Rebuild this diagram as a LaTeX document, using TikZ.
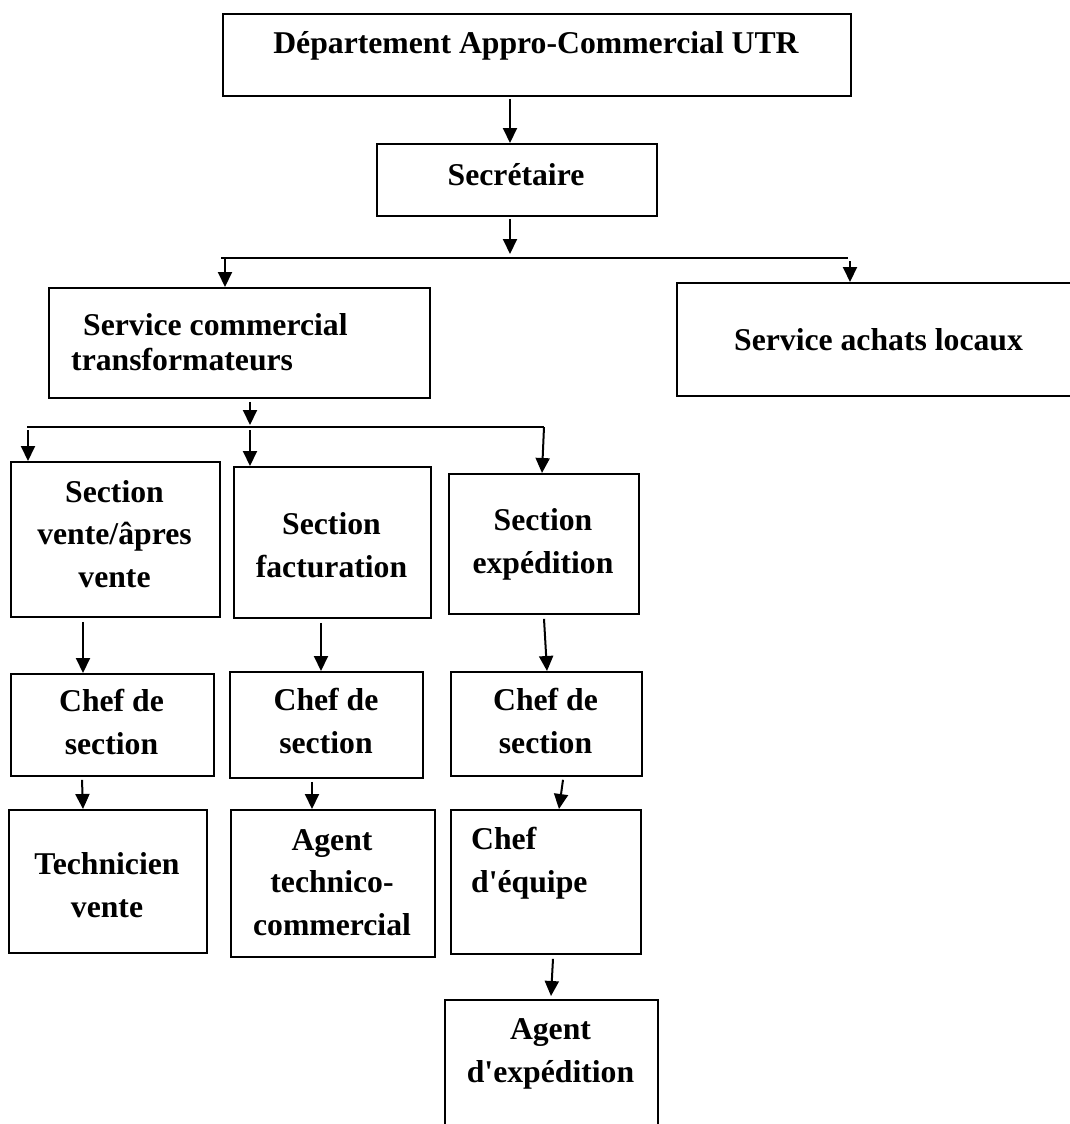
\documentclass[tikz,border=0pt]{standalone}
\usepackage{fontspec}
\setmainfont{Liberation Serif}
\usetikzlibrary{arrows.meta}
\begin{document}
\begin{tikzpicture}[x=1pt,y=-1pt,
  box/.style={draw=black,line width=1.8pt,rectangle,inner sep=0pt,anchor=north west},
  lbl/.style={inner sep=0pt,align=center,anchor=base,
    font=\fontsize{31.7}{42.5}\selectfont\bfseries},
  lbll/.style={lbl,align=left,anchor=base west},
  arr/.style={line width=2pt,-{Triangle[length=15pt,width=14pt]}},
  bus/.style={line width=2pt}]
\useasboundingbox (0,0) rectangle (1070,1124);
\clip (0,0) rectangle (1070,1124);
\fill[white] (0,0) rectangle (1070,1124);

% boxes of the chart
\node[box,minimum width=628pt,minimum height=82pt] (dept) at (222,13) {};
\node[box,minimum width=280pt,minimum height=72pt] (secr) at (376,143) {};
\node[box,minimum width=381pt,minimum height=110pt] (scom) at (48,287) {};
\node[box,minimum width=420pt,minimum height=113pt] (sach) at (676,282) {};
\node[box,minimum width=209pt,minimum height=155pt] (sv) at (10,461) {};
\node[box,minimum width=197pt,minimum height=151pt] (sf) at (233,466) {};
\node[box,minimum width=190pt,minimum height=140pt] (se) at (448,473) {};
\node[box,minimum width=203pt,minimum height=102pt] (c1) at (10,673) {};
\node[box,minimum width=193pt,minimum height=106pt] (c2) at (229,671) {};
\node[box,minimum width=191pt,minimum height=104pt] (c3) at (450,671) {};
\node[box,minimum width=198pt,minimum height=143pt] (tech) at (8,809) {};
\node[box,minimum width=204pt,minimum height=147pt] (atc) at (230,809) {};
\node[box,minimum width=190pt,minimum height=144pt] (ceq) at (450,809) {};
\node[box,minimum width=213pt,minimum height=150pt] (aexp) at (444,999) {};

% texts (anchored on the baseline of their last line)
\node[lbl] (dept-t) at (536,53) {Département Appro-Commercial UTR};
\node[lbl] (secr-t) at (516,185) {Secrétaire};
\node[lbll,font=\fontsize{31.7}{35}\selectfont\bfseries] (scom-t) at (71,370)
  {\hspace{12pt}Service commercial\\transformateurs};
\node[lbl] (sach-t) at (878.5,350) {Service achats locaux};
\node[lbl] (sv-t) at (114.5,587) {Section\\vente/âpres\\vente};
\node[lbl] (sf-t) at (331.5,577) {Section\\facturation};
\node[lbl] (se-t) at (543,573) {Section\\expédition};
\node[lbl] (c1-t) at (111.5,754) {Chef de\\section};
\node[lbl] (c2-t) at (326,753) {Chef de\\section};
\node[lbl] (c3-t) at (545.5,753) {Chef de\\section};
\node[lbl] (tech-t) at (107,917) {Technicien\\vente};
\node[lbl] (atc-t) at (332,935) {Agent\\technico-\\commercial};
\node[lbll] (ceq-t) at (471,892) {Chef\\d\textquotesingle équipe};
\node[lbl] (aexp-t) at (550.5,1082) {Agent\\d\textquotesingle expédition};

% bus lines
\coordinate (busA-l) at (221,258);
\coordinate (busA-r) at (848,258);
\coordinate (busB-l) at (27,427);
\coordinate (busB-r) at (544,427);
\draw[bus] (busA-l) -- (busA-r);
\draw[bus] (busB-l) -- (busB-r);

% connectors
\draw[arr] ([yshift=-2pt]dept.south -| 510,0) -- (secr.north -| 510,0);
\draw[arr] ([yshift=-2pt]secr.south -| 510,0) -- ([yshift=4pt]busA-l -| 510,0);
\draw[arr] ([yshift=1pt]busA-l -| 225,0) -- (scom.north -| 225,0);
\draw[arr] ([yshift=-3pt]busA-r -| 850,0) -- (sach.north -| 850,0);
\draw[arr] ([yshift=-3pt]scom.south -| 250,0) -- ([yshift=2pt]busB-l -| 250,0);
\draw[arr] ([yshift=-3pt]busB-l -| 28,0) -- (sv.north -| 28,0);
\draw[arr] ([yshift=-3pt]busB-l -| 250,0) -- (sf.north -| 250,0);
\draw[arr] (busB-r) -- (se.north -| 542,0);
\draw[arr] ([yshift=-4pt]sv.south -| 83,0) -- (c1.north -| 83,0);
\draw[arr] ([yshift=-4pt]sf.south -| 321,0) -- (c2.north -| 321,0);
\draw[arr] ([yshift=-4pt]se.south -| 544,0) -- (c3.north -| 547,0);
\draw[arr] ([yshift=-3pt]c1.south -| 82,0) -- (tech.north -| 83,0);
\draw[arr] ([yshift=-3pt]c2.south -| 312,0) -- (atc.north -| 312,0);
\draw[arr] ([yshift=-3pt]c3.south -| 563,0) -- (ceq.north -| 559,0);
\draw[arr] ([yshift=-4pt]ceq.south -| 553,0) -- ([yshift=3pt]aexp.north -| 551,0);
\end{tikzpicture}
\end{document}
